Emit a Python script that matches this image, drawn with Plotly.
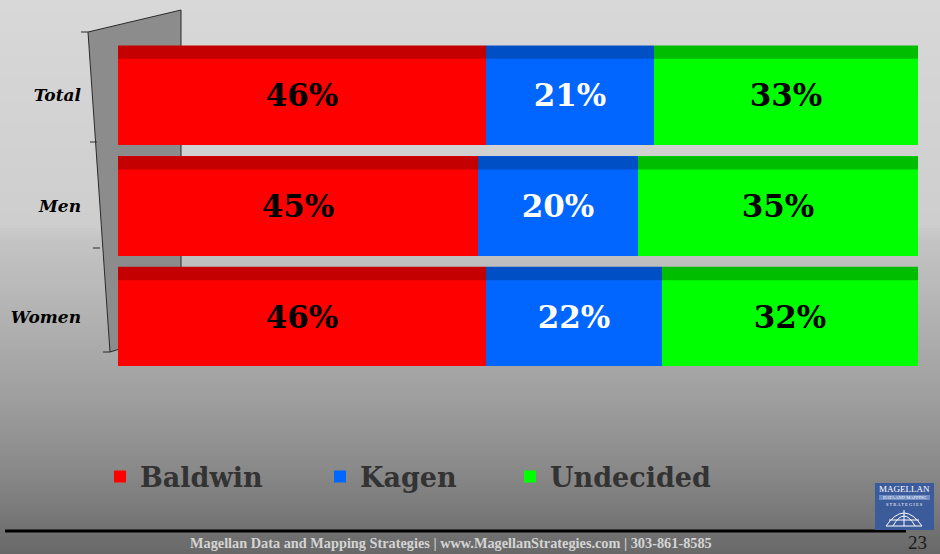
import plotly.graph_objects as go

# ---- data ----
categories = ["Total", "Men", "Women"]
baldwin = [46, 45, 46]
kagen = [21, 20, 22]
undecided = [33, 35, 32]
series_names = ["Baldwin", "Kagen", "Undecided"]

footer_text = "Magellan Data and Mapping Strategies | www.MagellanStrategies.com | 303-861-8585"
page_number = "23"

# ---- styles ----
front_colors = ["#ff0000", "#0066ff", "#00ff00"]
top_colors = ["#c40000", "#004fc4", "#00bd00"]
label_colors = ["#000000", "#ffffff", "#000000"]

W, H = 940, 554
ML, MR, MT, MB = 118, 22, 40, H - 372
PW, PH = W - ML - MR, H - MT - MB


def px(x):
    return (x - ML) / PW


def py(y):
    return (H - MB - y) / PH


series = [baldwin, kagen, undecided]
ypos = list(range(len(categories)))
legend_ids = ["legend", "legend2", "legend3"]

fig = go.Figure()
for k, (name, vals) in enumerate(zip(series_names, series)):
    fig.add_trace(go.Bar(
        y=ypos, x=vals, orientation="h", name=name,
        marker=dict(color=front_colors[k], line=dict(width=0)),
        width=0.9,
        text=[f"{v}%" for v in vals], textposition="inside",
        insidetextanchor="middle", textangle=0, constraintext="none",
        textfont=dict(family="DejaVu Serif", size=31, color=label_colors[k], weight="bold"),
        legend=legend_ids[k],
        hoverinfo="skip",
    ))

shapes = []

# background gradient
stops = [(0, 216), (225, 206), (240, 196), (300, 182), (400, 158), (470, 137), (530, 114), (554, 104)]


def gray_at(y):
    for (y0, g0), (y1, g1) in zip(stops[:-1], stops[1:]):
        if y0 <= y <= y1:
            return int(round(g0 + (g1 - g0) * (y - y0) / (y1 - y0)))
    return stops[-1][1]


step = 3
for y in range(0, H, step):
    g = gray_at(y + step / 2)
    shapes.append(dict(type="rect", xref="paper", yref="paper", x0=px(0), x1=px(W),
                       y0=py(min(y + step, H)), y1=py(y),
                       fillcolor=f"rgb({g},{g},{g})", line=dict(width=0), layer="below"))

# left wall
wall = [(88, 32), (181, 10), (181, 330), (110, 352)]
path = "M " + " L ".join(f"{px(x)},{py(y)}" for x, y in wall) + " Z"
shapes.append(dict(type="path", xref="paper", yref="paper", path=path,
                   fillcolor="#8c8c8c", line=dict(color="#2a2a2a", width=1), layer="below"))
for (x, y) in [(88, 32), (97, 142), (100, 248), (110, 352)]:
    shapes.append(dict(type="line", xref="paper", yref="paper", x0=px(x - 7), x1=px(x),
                       y0=py(y), y1=py(y), line=dict(color="#2a2a2a", width=1), layer="below"))

# darker top faces of bars (derived from the data)
for i in range(len(categories)):
    start = 0
    for k, vals in enumerate(series):
        shapes.append(dict(type="rect", xref="x", yref="y", x0=start, x1=start + vals[i],
                           y0=i - 0.45, y1=i - 0.33, fillcolor=top_colors[k],
                           line=dict(width=0), layer="above"))
        start += vals[i]

# footer line
shapes.append(dict(type="line", xref="paper", yref="paper", x0=px(5), x1=px(906),
                   y0=py(531), y1=py(531), line=dict(color="#000000", width=3)))

# logo box
shapes.append(dict(type="rect", xref="paper", yref="paper", x0=px(875), x1=px(934),
                   y0=py(530), y1=py(483), fillcolor="#3c5b9b", line=dict(width=0)))
shapes.append(dict(type="rect", xref="paper", yref="paper", x0=px(879), x1=px(930),
                   y0=py(500), y1=py(495), fillcolor="#6f8cc2", line=dict(width=0)))
globe = (f"M {px(886)},{py(526)} Q {px(904)},{py(500)} {px(922)},{py(526)} Z "
         f"M {px(893)},{py(526)} Q {px(904)},{py(506)} {px(915)},{py(526)} "
         f"M {px(904)},{py(510)} L {px(904)},{py(526)} "
         f"M {px(889)},{py(520)} L {px(919)},{py(520)}")
shapes.append(dict(type="path", xref="paper", yref="paper", path=globe,
                   line=dict(color="#ffffff", width=1)))

annotations = [
    dict(text=footer_text, x=px(451), y=py(543), xref="paper", yref="paper",
         showarrow=False, xanchor="center", yanchor="middle",
         font=dict(family="Liberation Serif", size=14.3, color="#d4d4d4", weight="bold")),
    dict(text=page_number, x=px(917), y=py(542), xref="paper", yref="paper",
         showarrow=False, xanchor="center", yanchor="middle",
         font=dict(family="Liberation Serif", size=19, color="#1a1a1a")),
    dict(text="MAGELLAN", x=px(904.5), y=py(489), xref="paper", yref="paper",
         showarrow=False, xanchor="center", yanchor="middle",
         font=dict(family="Liberation Serif", size=9, color="#ffffff")),
    dict(text="DATA AND MAPPING", x=px(904.5), y=py(497.5), xref="paper", yref="paper",
         showarrow=False, xanchor="center", yanchor="middle",
         font=dict(family="Liberation Serif", size=4.5, color="#ffffff")),
    dict(text="S T R A T E G I E S", x=px(904.5), y=py(504), xref="paper", yref="paper",
         showarrow=False, xanchor="center", yanchor="middle",
         font=dict(family="Liberation Serif", size=4.5, color="#ffffff")),
]

legend_font = dict(family="DejaVu Serif", size=27, color="#333333", weight="bold")
legend_common = dict(orientation="h", xanchor="left", yanchor="middle", y=py(477),
                     bgcolor="rgba(0,0,0,0)", font=legend_font, itemwidth=30)

fig.update_layout(
    width=W, height=H,
    margin=dict(l=ML, r=MR, t=MT, b=MB, autoexpand=False),
    paper_bgcolor="#c8c8c8",
    plot_bgcolor="rgba(0,0,0,0)",
    barmode="stack",
    bargap=0.1,
    showlegend=True,
    legend=dict(x=px(100), **legend_common),
    legend2=dict(x=px(320), **legend_common),
    legend3=dict(x=px(510), **legend_common),
    xaxis=dict(range=[0, 100], visible=False, fixedrange=True),
    yaxis=dict(range=[2.5, -0.5], tickvals=ypos, ticktext=categories,
               showgrid=False, zeroline=False, showline=False, ticks="",
               ticklabelstandoff=36,
               tickfont=dict(family="DejaVu Serif", size=17, color="#000000",
                             weight="bold", style="italic"),
               fixedrange=True),
    shapes=shapes,
    annotations=annotations,
)

fig.write_html("out.html", config={"displayModeBar": False},
               post_script="document.body.style.margin='0';document.body.style.overflow='hidden';")
